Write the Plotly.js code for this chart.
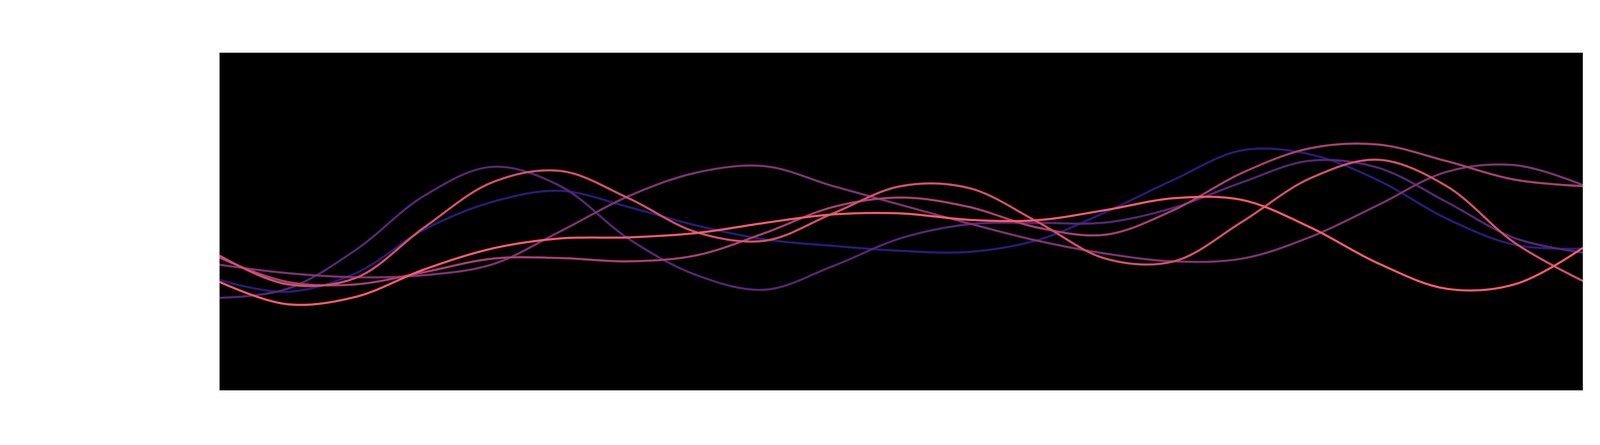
<!DOCTYPE html>
<html>
<head>
<meta charset="utf-8">
<script src="https://cdn.plot.ly/plotly-3.0.1.min.js"></script>
<style>
  html, body { margin: 0; padding: 0; background: #ffffff; }
  #chart { width: 4500px; height: 1140px; }
</style>
</head>
<body>
<div id="chart"></div>
<script>
// sample positions along the x axis
const steps = [0, 1, 2, 3, 4, 5, 6, 7, 8, 9, 10, 11, 12, 13, 14, 15, 16, 17, 18, 19, 20];

// series values (arbitrary units, axis 0..100)
const seriesA = [32.7, 29.2, 34.7, 47.6, 55.8, 59.1, 54.3, 48.8, 44.7, 42.8, 41.3, 41.0, 44.5, 52.8, 62.4, 71.1, 69.9, 62.2, 50.9, 43.1, 42.0];
const seriesB = [27.4, 30.1, 41.6, 57.6, 66.2, 60.5, 44.9, 34.1, 29.8, 36.8, 45.1, 49.2, 49.6, 49.7, 54.1, 61.6, 68.0, 65.9, 55.8, 45.1, 40.8];
const seriesC = [37.2, 34.7, 33.5, 34.1, 37.3, 47.1, 57.5, 64.5, 66.4, 60.5, 54.9, 49.4, 44.3, 40.5, 38.2, 39.0, 45.4, 54.9, 64.7, 66.7, 60.8];
const seriesD = [39.3, 32.1, 31.4, 35.0, 39.0, 39.2, 38.2, 40.0, 46.6, 54.3, 57.1, 54.3, 48.2, 46.1, 53.4, 64.4, 71.7, 72.8, 67.9, 62.4, 60.5];
const seriesE = [39.9, 31.4, 33.3, 48.2, 61.6, 65.0, 56.9, 46.8, 44.3, 52.4, 60.5, 59.9, 49.9, 39.0, 38.2, 49.9, 62.8, 68.3, 60.5, 43.7, 32.4];
const seriesF = [32.1, 25.5, 27.7, 35.8, 42.0, 45.0, 45.3, 46.6, 49.6, 52.1, 52.4, 50.5, 50.4, 53.4, 56.9, 56.4, 48.3, 37.6, 30.1, 31.4, 42.2];

const seriesNames = ['A', 'B', 'C', 'D', 'E', 'F'];
const seriesColors = ['#2a1b7a', '#542774', '#7e3370', '#a8406f', '#d44e6e', '#fd5a6b'];

const allSeries = [seriesA, seriesB, seriesC, seriesD, seriesE, seriesF];

const traces = allSeries.map((ys, i) => ({
    x: steps, y: ys,
    type: 'scatter', mode: 'lines',
    name: seriesNames[i],
    line: { color: seriesColors[i], width: 5.5, shape: 'spline', smoothing: 1 },
    hoverinfo: 'skip',
}));

const hiddenAxis = {
    showgrid: false, zeroline: false, showline: false,
    showticklabels: false, ticks: '',
};

const layout = {
    width: 4500, height: 1140,
    paper_bgcolor: '#ffffff',
    plot_bgcolor: '#000000',
    margin: { l: 562, r: 448, t: 135, b: 140 },
    showlegend: false,
    xaxis: { ...hiddenAxis, range: [0, 20] },
    yaxis: { ...hiddenAxis, range: [0, 100] },
};

Plotly.newPlot('chart', traces, layout, { displayModeBar: false, staticPlot: true });
</script>
</body>
</html>
